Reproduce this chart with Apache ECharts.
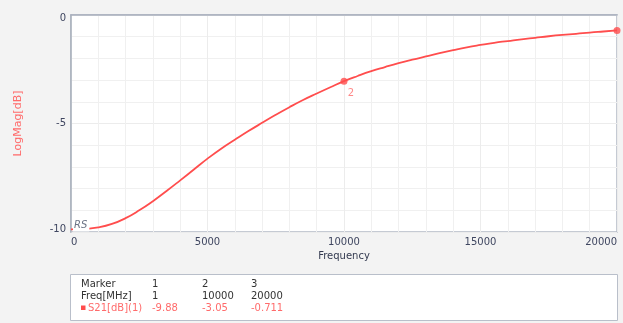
<!DOCTYPE html>
<html><head><meta charset="utf-8">
<script src="https://cdn.jsdelivr.net/npm/echarts@6/dist/echarts.min.js"></script>
<style>html,body{margin:0;padding:0;background:#f3f3f3}#c{width:623px;height:323px}</style>
</head><body><div id="c"></div>
<script>
// Trace S21 (LogMag dB) vs frequency (MHz)
var freqs = [1,500,1000,1500,2000,2500,3000,3500,4000,4500,5000,5500,6000,6500,7000,7500,8000,8500,9000,9500,10000,10500,11000,11500,12000,12500,13000,13500,14000,14500,15000,15500,16000,16500,17000,17500,18000,18500,19000,19500,20000];
var s21 = [-9.88,-9.86,-9.79,-9.63,-9.36,-9.00,-8.58,-8.11,-7.62,-7.12,-6.62,-6.16,-5.75,-5.35,-4.97,-4.60,-4.25,-3.92,-3.62,-3.33,-3.05,-2.81,-2.59,-2.40,-2.22,-2.06,-1.91,-1.76,-1.62,-1.49,-1.38,-1.28,-1.20,-1.12,-1.05,-0.98,-0.92,-0.87,-0.81,-0.76,-0.711];
// Markers
var markerIds = ['1','2','3'];
var markerFreqs = [1,10000,20000];
var markerVals = [-9.88,-3.05,-0.711];
var markerValText = ['-9.88','-3.05','-0.711'];
// Axis ticks
var xTicks = [0,5000,10000,15000,20000];
var yTicks = [-10,-5,0];

var RED = '#ff4d4d';
var LRED = '#ff6b6b';
var FONT = 'DejaVu Sans';
var chart = echarts.init(document.getElementById('c'), null, {renderer:'canvas'});

var lineData = freqs.map(function(f,i){return [f,s21[i]];});
var markerData = markerFreqs.map(function(f,i){
  return {value:[f,markerVals[i]], name:markerIds[i],
    symbolSize: i===0 ? 0 : 7,
    label:{show: i===1}};
});

var cols = [152,202,251];
var gtext = [];
function txt(x,y,s,color){
  gtext.push({type:'text', x:x, y:y, style:{text:s, fill:color, font:'10px "DejaVu Sans"', verticalAlign:'middle', align:'left'}, z:10});
}
gtext.push({type:'rect', shape:{x:70.5,y:274.5,width:547,height:46}, style:{fill:'#fff', stroke:'#b9bfca', lineWidth:1}, z:5});
txt(81,284.5,'Marker','#333');
txt(81,296.5,'Freq[MHz]','#333');
gtext.push({type:'rect', shape:{x:81,y:305.5,width:4.5,height:4.5}, style:{fill:RED}, z:10});
txt(88,308,'S21[dB](1)',LRED);
markerIds.forEach(function(id,i){
  txt(cols[i],284.5,id,'#333');
  txt(cols[i],296.5,String(markerFreqs[i]),'#333');
  txt(cols[i],308,markerValText[i],LRED);
});

var ylab = {color:'#3f4660',fontFamily:FONT,fontSize:10};
chart.setOption({
  backgroundColor:'#f3f3f3',
  animation:false,
  grid:{left:71,right:6,top:15,bottom:91,show:true,backgroundColor:'#fff',borderColor:'#b3b9c5',borderWidth:1.5},
  xAxis:{type:'value',min:0,max:20000,interval:5000,
    name:'Frequency',nameLocation:'middle',nameGap:19,
    nameTextStyle:{color:'#333a50',fontFamily:FONT,fontSize:10},
    axisLine:{show:true,lineStyle:{color:'#a9b0bd',width:1.5}},
    axisTick:{show:false},
    axisLabel:{color:'#3f4660',fontFamily:FONT,fontSize:10,margin:5,alignMinLabel:'left',alignMaxLabel:'right',
      formatter:function(v){return xTicks.indexOf(v)>=0?String(v):'';}},
    splitLine:{show:true,lineStyle:{color:'#ececec',width:1}},
    minorTick:{show:false,splitNumber:5},
    minorSplitLine:{show:true,lineStyle:{color:'#f0f0f0',width:1}}
  },
  yAxis:{type:'value',min:-10,max:0,interval:5,
    name:'LogMag[dB]',nameLocation:'middle',nameGap:47,nameRotate:90,
    nameTextStyle:{color:'#ff6b6b',fontFamily:FONT,fontSize:11,padding:[0,0,0,0]},
    axisLine:{show:true,lineStyle:{color:'#a9b0bd',width:1.5}},
    axisTick:{show:false},
    axisLabel:{color:'#3f4660',fontFamily:FONT,fontSize:10,margin:5,
      formatter:function(v){
        if(yTicks.indexOf(v)<0) return '';
        if(v===0) return '{t|'+v+'}';
        if(v===-10) return '{b|'+v+'}';
        return '{m|'+v+'}';
      },
      rich:{
        t:Object.assign({padding:[6,0,0,0]},ylab),
        b:Object.assign({padding:[0,0,5,0]},ylab),
        m:Object.assign({},ylab)
      }},
    splitLine:{show:true,lineStyle:{color:'#ececec',width:1}},
    minorTick:{show:false,splitNumber:5},
    minorSplitLine:{show:true,lineStyle:{color:'#f0f0f0',width:1}}
  },
  series:[
    {type:'line',data:lineData,smooth:0.5,showSymbol:false,symbol:'none',
      lineStyle:{color:RED,width:1.8},z:3,
      markPoint:{symbol:'rect',symbolSize:0,silent:true,
        data:[{coord:[markerFreqs[0],markerVals[0]],
          label:{show:true,formatter:'RS',position:'right',offset:[-3,-4],
            color:'#6b7385',fontStyle:'italic',fontFamily:FONT,fontSize:10,
            backgroundColor:'#fff',padding:[1,2,1,1]}}]}
    },
    {type:'scatter',data:markerData,symbol:'circle',z:4,
      itemStyle:{color:RED},
      label:{position:'bottom',offset:[7,-1],formatter:'{b}',color:LRED,fontFamily:FONT,fontSize:10}
    }
  ],
  graphic:gtext
});
</script></body></html>
